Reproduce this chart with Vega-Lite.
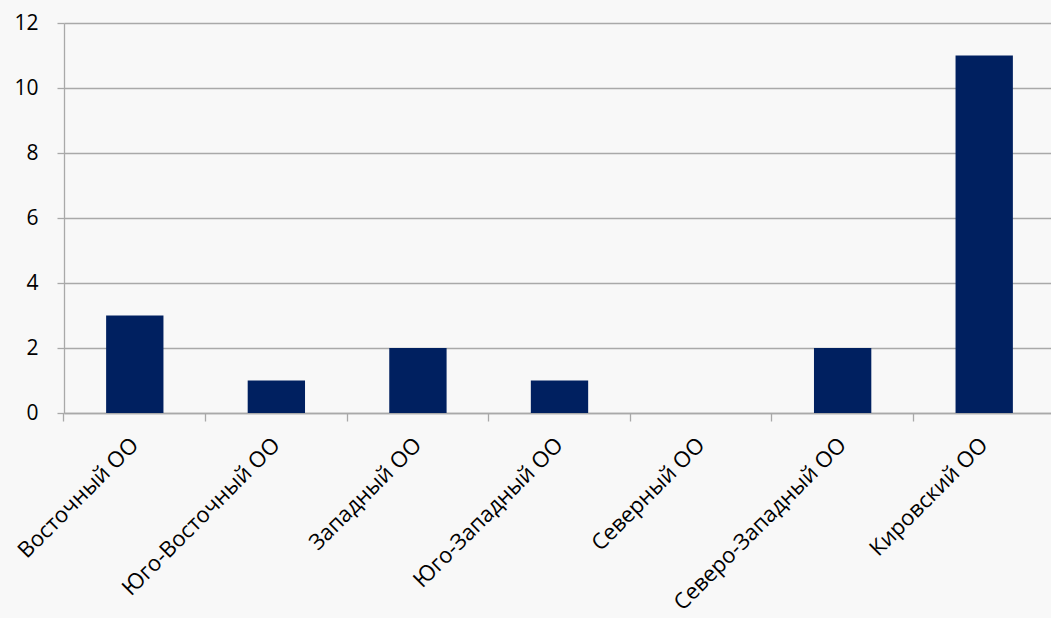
{
  "$schema": "https://vega.github.io/schema/vega-lite/v6.json",
  "width": 991,
  "height": 390,
  "autosize": {"type": "none"},
  "padding": {"left": 64, "top": 23, "right": 0, "bottom": 205},
  "background": "#f8f8f8",
  "data": {
    "values": [
      {"district": "Восточный ОО", "value": 3},
      {"district": "Юго-Восточный ОО", "value": 1},
      {"district": "Западный ОО", "value": 2},
      {"district": "Юго-Западный ОО", "value": 1},
      {"district": "Северный ОО", "value": 0},
      {"district": "Северо-Западный ОО", "value": 2},
      {"district": "Кировский ОО", "value": 11}
    ]
  },
  "config": {
    "view": {"stroke": null},
    "font": "Open Sans"
  },
  "mark": {"type": "bar", "color": "#002060", "width": {"band": 0.405}},
  "encoding": {
    "x": {
      "field": "district",
      "type": "nominal",
      "sort": null,
      "title": null,
      "scale": {"paddingInner": 0, "paddingOuter": 0},
      "axis": {
        "bandPosition": 0,
        "labelAngle": -45,
        "labelAlign": "right",
        "labelBaseline": "middle",
        "labelFontSize": 22,
        "labelColor": "#000000",
        "labelPadding": 20,
        "labelLimit": 0,
        "labelOverlap": false,
        "tickSize": 8,
        "tickColor": "#a9a9a9",
        "tickWidth": 1.3,
        "domainColor": "#a9a9a9",
        "domainWidth": 1.3,
        "grid": false
      }
    },
    "y": {
      "field": "value",
      "type": "quantitative",
      "title": null,
      "scale": {"domain": [0, 12], "nice": false},
      "axis": {
        "values": [0, 2, 4, 6, 8, 10, 12],
        "labelFontSize": 21,
        "labelColor": "#000000",
        "labelPadding": 19,
        "tickSize": 7,
        "tickColor": "#a9a9a9",
        "tickWidth": 1.3,
        "domainColor": "#a9a9a9",
        "domainWidth": 1.3,
        "grid": true,
        "gridColor": "#a9a9a9",
        "gridWidth": 1.3
      }
    }
  }
}
